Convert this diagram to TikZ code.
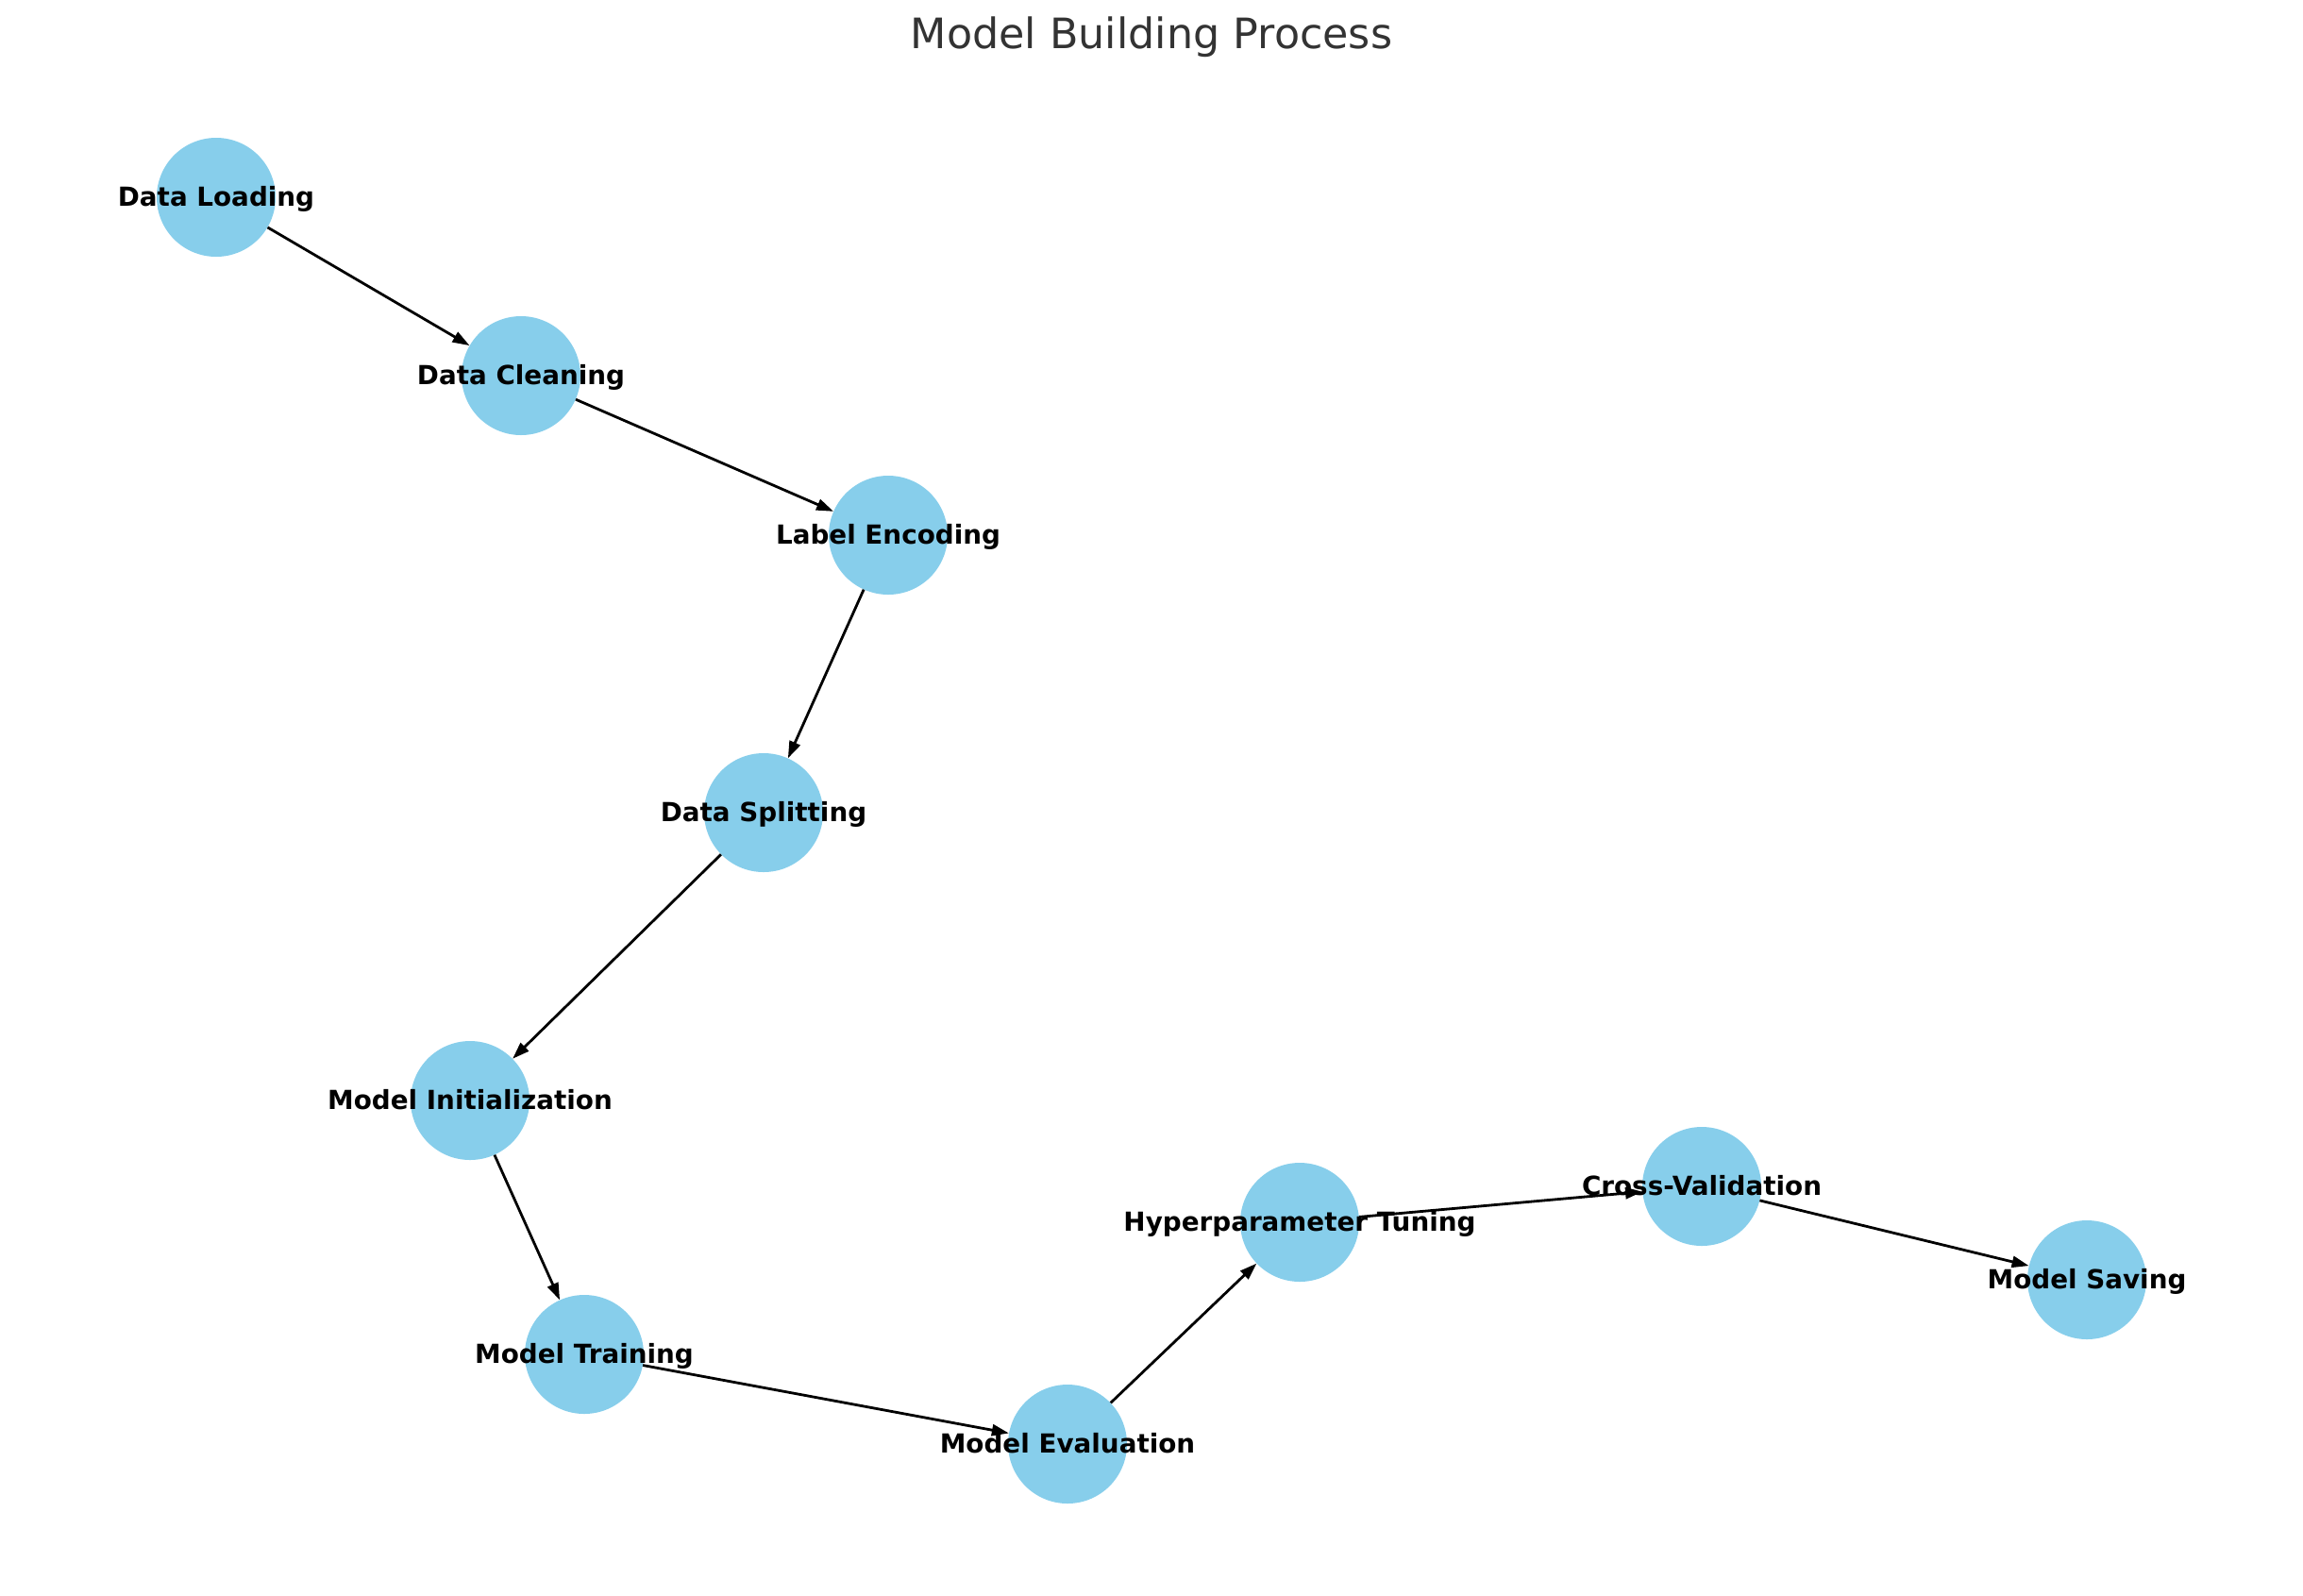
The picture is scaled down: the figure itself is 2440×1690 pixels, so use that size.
\documentclass[tikz,border=0pt]{standalone}
\usepackage{fontspec}
\setmainfont{DejaVu Sans}
\usetikzlibrary{arrows.meta}
\definecolor{skyblue}{HTML}{87CEEB}
\definecolor{titlegray}{HTML}{333333}
\tikzset{x=1pt, y=-1pt, % one unit is one pixel of the reference, y runs downwards
stage/.style={circle, fill=skyblue, minimum size=126pt, inner sep=0pt}, % the blue discs
stage text/.style={font=\fontsize{27.8}{30}\selectfont\bfseries, text height=24pt, text depth=6pt}, % labels on top of the discs
flow/.style={-{Triangle[length=18pt,width=12pt]}, line width=2.8pt}, % the directed edges
}
\begin{document}
\begin{tikzpicture}
\useasboundingbox (0,0) rectangle (2440,1690);
\node[font=\fontsize{44.4}{50}\selectfont, text=titlegray] (title) at (1220,39) {Model Building Process};

\node[stage] (load) at (229,209) {};
\node[stage] (clean) at (552,398) {};
\node[stage] (encode) at (941,567) {};
\node[stage] (split) at (809,861) {};
\node[stage] (init) at (498,1166) {};
\node[stage] (train) at (619,1435) {};
\node[stage] (eval) at (1131,1530) {};
\node[stage] (tune) at (1377,1295) {};
\node[stage] (cv) at (1803,1257) {};
\node[stage] (save) at (2211,1356) {};

\draw[flow] (load) -- (clean);
\draw[flow] (clean) -- (encode);
\draw[flow] (encode) -- (split);
\draw[flow] (split) -- (init);
\draw[flow] (init) -- (train);
\draw[flow] (train) -- (eval);
\draw[flow] (eval) -- (tune);
\draw[flow] (tune) -- (cv);
\draw[flow] (cv) -- (save);

\node[stage text] at (load) {Data Loading};
\node[stage text] at (clean) {Data Cleaning};
\node[stage text] at (encode) {Label Encoding};
\node[stage text] at (split) {Data Splitting};
\node[stage text] at (init) {Model Initialization};
\node[stage text] at (train) {Model Training};
\node[stage text] at (eval) {Model Evaluation};
\node[stage text] at (tune) {Hyperparameter Tuning};
\node[stage text] at (cv) {Cross-Validation};
\node[stage text] at (save) {Model Saving};
\end{tikzpicture}
\end{document}
